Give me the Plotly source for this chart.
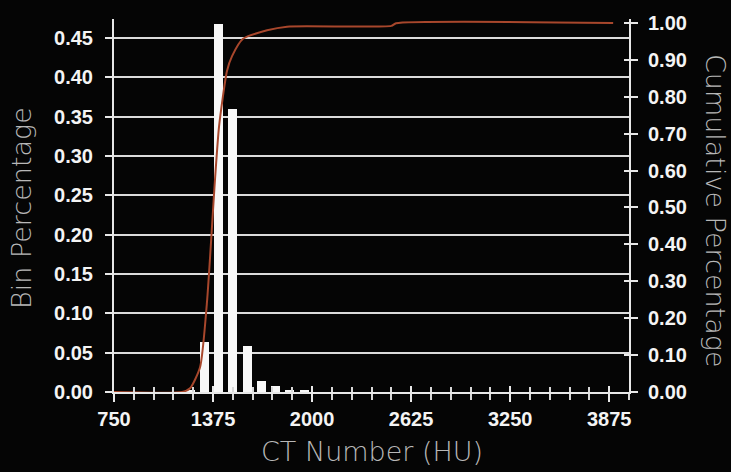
import plotly.graph_objects as go

# ---- data ----
bin_centers = [1230, 1320, 1410, 1500, 1590, 1680, 1770, 1860, 1950]
bin_pct = [0.003, 0.064, 0.468, 0.360, 0.059, 0.014, 0.007, 0.003, 0.002]

cum_x = [750, 1180, 1230, 1293, 1337, 1388, 1413, 1463, 1495, 1564, 1716, 1842, 2500, 2530, 3900]
cum_y = [0.0, 0.0, 0.01, 0.067, 0.245, 0.58, 0.72, 0.87, 0.91, 0.957, 0.98, 0.99, 0.992, 0.999, 1.0]

x_ticks = [750, 1375, 2000, 2625, 3250, 3875]
y_ticks = [0.00, 0.05, 0.10, 0.15, 0.20, 0.25, 0.30, 0.35, 0.40, 0.45]
y2_ticks = [0.0, 0.1, 0.2, 0.3, 0.4, 0.5, 0.6, 0.7, 0.8, 0.9, 1.0]

W, H = 731, 472
L, R, T, B = 114, 102, 13, 80

tick_font = dict(family="Liberation Sans, Arial", size=20, color="#f4f4f4", weight="bold")
title_font = dict(family="DejaVu Sans", size=27, color="#b8b8b8", weight=200)

fig = go.Figure()
fig.add_trace(go.Bar(x=bin_centers, y=bin_pct, width=58, marker=dict(color="#f8f8f8", line=dict(width=0)),
                     xaxis="x", yaxis="y", showlegend=False))
fig.add_trace(go.Scatter(x=cum_x, y=cum_y, mode="lines", line=dict(color="#a8472c", width=2, shape="spline", smoothing=0.6),
                         xaxis="x", yaxis="y2", showlegend=False, cliponaxis=False))
# dummy trace to activate overlay axes
fig.add_trace(go.Scatter(x=[None], y=[None], xaxis="x3", yaxis="y4", showlegend=False, hoverinfo="skip"))

fig.update_layout(
    width=W, height=H,
    margin=dict(l=L, r=R, t=T, b=B),
    paper_bgcolor="#050505", plot_bgcolor="#050505",
    bargap=0,
    xaxis=dict(range=[750, 4000], tickvals=x_ticks, ticktext=[str(v) for v in x_ticks],
               ticks="outside", ticklen=8, tickwidth=2, tickcolor="#e8e8e8",
               minor=dict(dtick=125, tick0=750, ticks="outside", ticklen=6, tickwidth=2, tickcolor="#d8d8d8", showgrid=False),
               showline=True, linecolor="#e8e8e8", linewidth=2, showgrid=False, zeroline=False,
               tickfont=tick_font, ticklabelstandoff=0, layer="below traces"),
    xaxis3=dict(range=[750, 4000], overlaying="x", tickvals=x_ticks, showticklabels=False,
                ticks="inside", ticklen=6, tickwidth=2, tickcolor="#e8e8e8",
                minor=dict(dtick=125, tick0=750, ticks="inside", ticklen=5, tickwidth=2, tickcolor="#d8d8d8"),
                showgrid=False, zeroline=False, showline=False),
    yaxis=dict(range=[0, 0.474], tickvals=y_ticks, tickformat=".2f",
               ticks="outside", ticklen=7, tickwidth=2, tickcolor="#e8e8e8",
               showline=True, linecolor="#e8e8e8", linewidth=2,
               showgrid=True, gridcolor="#dcdcdc", gridwidth=2, zeroline=False,
               tickfont=tick_font, ticklabelstandoff=8),
    yaxis2=dict(range=[0, 1.0107], tickvals=y2_ticks, tickformat=".2f", overlaying="y", side="right",
                ticks="outside", ticklen=7, tickwidth=2, tickcolor="#e8e8e8",
                showline=True, linecolor="#e8e8e8", linewidth=2, showgrid=False, zeroline=False,
                tickfont=tick_font, ticklabelstandoff=6),
    yaxis4=dict(range=[0, 1.0107], tickvals=y2_ticks, overlaying="y", side="right", showticklabels=False,
                ticks="inside", ticklen=5, tickwidth=2, tickcolor="#e8e8e8",
                showline=False, showgrid=False, zeroline=False),
    annotations=[
        dict(text="Bin Percentage", xref="paper", yref="paper", x=(22 - L) / (W - L - R), y=(392 - 205) / (H - T - B),
             textangle=-90, showarrow=False, font=title_font, xanchor="center", yanchor="middle"),
        dict(text="Cumulative Percentage", xref="paper", yref="paper", x=(715 - L) / (W - L - R), y=(392 - 208) / (H - T - B),
             textangle=90, showarrow=False, font=title_font, xanchor="center", yanchor="middle"),
        dict(text="CT Number (HU)", xref="paper", yref="paper", x=0.5, y=(392 - 452) / (H - T - B),
             showarrow=False, font=title_font, xanchor="center", yanchor="middle"),
    ],
)

fig.write_html("out.html", config={"displayModeBar": False},
               post_script="document.body.style.margin='0';document.body.style.overflow='hidden';")
